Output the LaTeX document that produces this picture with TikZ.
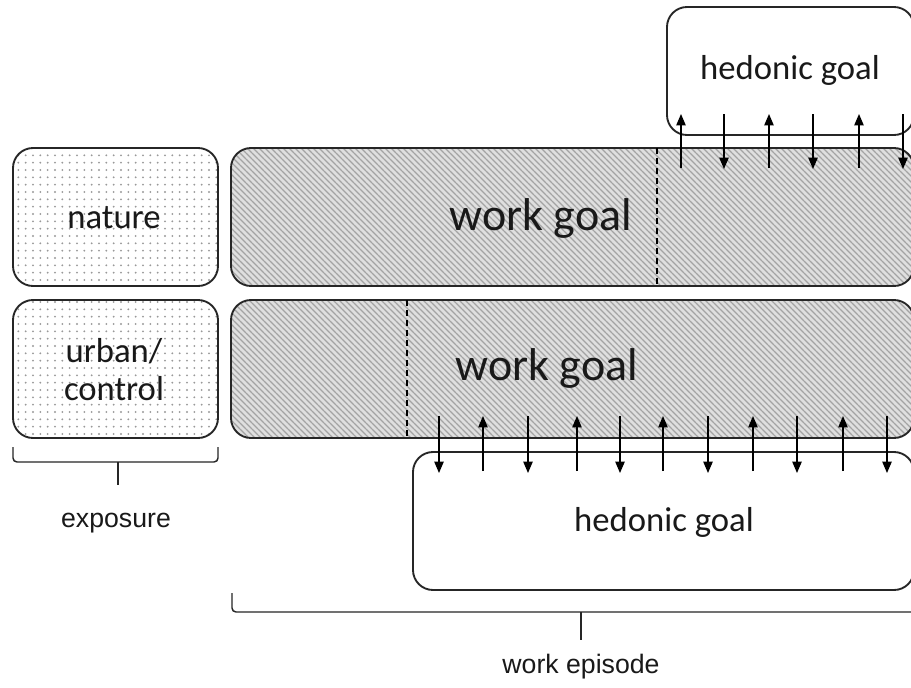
\documentclass[tikz,border=0pt]{standalone}
\usepackage{fontspec}
\setmainfont{Carlito}
\newfontfamily\arialfont{Liberation Sans}
\usetikzlibrary{arrows.meta,patterns,patterns.meta}
\tikzdeclarepattern{
  name=sparsedots,
  type=uncolored,
  bottom left={(-0.1pt,-0.1pt)},
  top right={(5.6pt,5.6pt)},
  tile size={(5.5pt,5.5pt)},
  code={\tikzset{x=1pt,y=1pt}\fill (2.75,2.75) circle (0.8);}
}
\tikzdeclarepattern{
  name=hatchlines,
  type=uncolored,
  bottom left={(-0.1pt,-0.1pt)},
  top right={(4.6pt,4.6pt)},
  tile size={(4.5pt,4.5pt)},
  code={\tikzset{x=1pt,y=1pt}\draw[line width=1pt] (0,4.5) -- (4.5,0);}
}
\tikzset{
  box/.style={draw=black!85, line width=1.4pt, rounded corners=15pt, inner sep=0pt, outer sep=0pt},
  expbox/.style={box, preaction={fill=white}, pattern=sparsedots, pattern color=gray!80},
  workbox/.style={box, preaction={fill=gray!25}, pattern=hatchlines, pattern color=gray!72},
  hedbox/.style={box, fill=white},
  boxtext/.style={font=\fontsize{26}{28.5}\selectfont, text=black!90, align=center, inner sep=0pt},
  worktext/.style={font=\fontsize{34.5}{38}\selectfont, text=black!90, inner sep=0pt},
  labeltext/.style={font=\arialfont\fontsize{20}{22}\selectfont, text=black!90, inner sep=0pt},
  arr/.style={line width=1pt, -{Triangle[length=8.5pt,width=7pt]}},
  brace/.style={line width=1.1pt, black!85, rounded corners=3pt},
  divider/.style={line width=1pt, dash pattern=on 4.5pt off 3pt}
}
\begin{document}
\begin{tikzpicture}[x=0.75pt,y=-0.75pt]
\clip (0,0) rectangle (911,687);
\fill[white] (0,0) rectangle (911,687);

% exposure boxes
\node[expbox, minimum width=153.75pt, minimum height=103.5pt] (nat) at (115.5,217) {};
\node[expbox, minimum width=153.75pt, minimum height=103.5pt] (urb) at (115.5,369) {};
\node[boxtext] (natt) at (114,218) {nature};
\node[boxtext] (urbt) at (114,370) {urban/\\control};

% work goal boxes
\node[workbox, minimum width=512.25pt, minimum height=103.5pt] (wg1) at (572.5,217) {};
\node[workbox, minimum width=512.25pt, minimum height=103.5pt] (wg2) at (572.5,369) {};
\coordinate (d1a) at (657,148); \coordinate (d1b) at (657,286);
\coordinate (d2a) at (407,300); \coordinate (d2b) at (407,438);
\draw[divider] (d1a) -- (d1b);
\draw[divider] (d2a) -- (d2b);
\node[worktext] (wg1t) at (541,218) {work goal};
\node[worktext] (wg2t) at (547,368) {work goal};

% hedonic goal boxes
\node[hedbox, minimum width=185.25pt, minimum height=96pt] (hg1) at (790.5,71) {};
\node[hedbox, minimum width=375.75pt, minimum height=103.5pt] (hg2) at (663.5,521) {};
\node[boxtext] (hg1t) at (790,70) {hedonic goal};
\node[boxtext] (hg2t) at (664,522) {hedonic goal};

% arrows between work goal (top) and hedonic goal (top)
\foreach \x [count=\i] in {681,769,859} {
  \coordinate (ua\i) at (\x,168);
  \coordinate (ub\i) at (\x,114);
  \draw[arr] (ua\i) -- (ub\i);
}
\foreach \x [count=\i] in {724,813,903} {
  \coordinate (da\i) at (\x,114);
  \coordinate (db\i) at (\x,169);
  \draw[arr] (da\i) -- (db\i);
}

% arrows between work goal (bottom) and hedonic goal (bottom)
\foreach \x [count=\i] in {439,528,620,708,797,887} {
  \coordinate (la\i) at (\x,416);
  \coordinate (lb\i) at (\x,473);
  \draw[arr] (la\i) -- (lb\i);
}
\foreach \x [count=\i] in {483,577,663,753,843} {
  \coordinate (ma\i) at (\x,471);
  \coordinate (mb\i) at (\x,416);
  \draw[arr] (ma\i) -- (mb\i);
}

% braces
\coordinate (e1) at (13,447); \coordinate (e2) at (218,447);
\coordinate (em) at (118,462); \coordinate (es) at (118,485);
\draw[brace] (e1) |- (em) -| (e2);
\draw[brace] (em) -- (es);
\node[labeltext] (exp) at (116,523) {exposure};

\coordinate (w1) at (232,593); \coordinate (w2) at (930,593);
\coordinate (wm) at (581,612); \coordinate (ws) at (581,640);
\draw[brace] (w1) |- (wm) -| (w2);
\draw[brace] (wm) -- (ws);
\node[labeltext] (wep) at (581,667) {work episode};
\end{tikzpicture}
\end{document}
